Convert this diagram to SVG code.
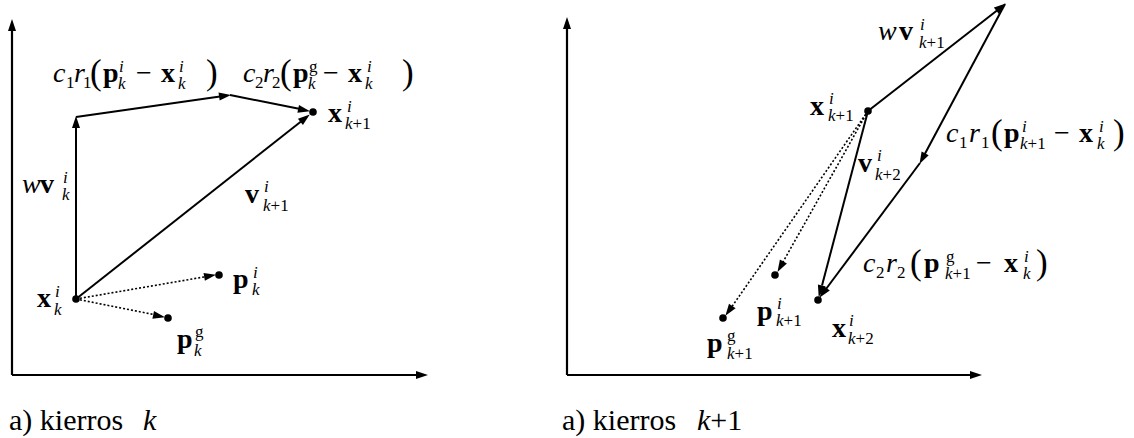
<svg xmlns="http://www.w3.org/2000/svg" width="1134" height="438" viewBox="0 0 1134 438">
<g id="axes">
<g stroke="#000" stroke-width="2.2" fill="none">
<path d="M12,375 L12,30"/>
<path d="M12,375 L417,375"/>
<path d="M567,375 L567,28"/>
<path d="M567,375 L971,375"/>
</g>
<g fill="#000">
<polygon points="12,19 16,31 8,31"/>
<polygon points="428,375 416,371 416,379"/>
<polygon points="567,17 571,29 563,29"/>
<polygon points="982,375 970,371 970,379"/>
</g>
</g>
<g id="connectors">
<g stroke="#000" stroke-width="2" fill="none">
<path d="M76,299 L76,127"/>
<path d="M76,117 L220,96.5"/>
<path d="M230,95 L299,108.8"/>
<path d="M76,299 L301,121.5"/>
<path d="M868,111 L997,10.5"/>
<path d="M1005,4 L924.8,154"/>
<path d="M920,163 L826,289"/>
<path d="M868,111 L822,285.5"/>
</g>
<g stroke="#000" stroke-width="1.6" stroke-dasharray="2 2" fill="none">
<path d="M76,299 L205,276.8"/>
<path d="M76,299 L154,314.6"/>
<path d="M868,111 L783,262"/>
<path d="M868,111 L732,306.5"/>
</g>
<g fill="#000">
<polygon points="76,116 80,128 72,128"/>
<polygon points="231,94.9 219.7,100.5 218.5,92.6"/>
<polygon points="310,111.2 297.4,112.7 299,104.9"/>
<polygon points="309.8,114.4 302.9,124.9 297.9,118.7"/>
<polygon points="216,274.8 204.9,280.8 203.5,272.9"/>
<polygon points="165,317.2 152.4,318.7 154,310.9"/>
<polygon points="1005.8,3.4 998.8,13.9 993.9,7.6"/>
<polygon points="919.5,163.9 921.6,151.4 928.7,155.2"/>
<polygon points="819.4,297.8 823.4,285.8 829.8,290.6"/>
<polygon points="818.7,297 817.9,284.4 825.7,286.4"/>
<polygon points="777.5,271.9 779.9,259.5 786.9,263.4"/>
<polygon points="725.4,315.8 729,303.7 735.6,308.3"/>
</g>
</g>
<g id="xk">
<circle cx="76" cy="299" r="3.8"/>
<text font-family="Liberation Serif" font-size="17"><tspan font-weight="bold" font-size="28" x="37" y="307">x</tspan><tspan font-style="italic" x="55" y="297">i</tspan><tspan font-style="italic" x="54" y="315">k</tspan></text>
</g>
<g id="xk1">
<circle cx="313" cy="112" r="3.8"/>
<text font-family="Liberation Serif" font-size="17"><tspan font-weight="bold" font-size="28" x="328" y="122">x</tspan><tspan font-style="italic" x="347" y="112">i</tspan><tspan font-style="italic" x="345" y="129">k</tspan><tspan>+1</tspan></text>
</g>
<g id="pki">
<circle cx="219" cy="275" r="3.8"/>
<text font-family="Liberation Serif" font-size="17"><tspan font-weight="bold" font-size="28" x="233" y="288">p</tspan><tspan font-style="italic" x="253" y="278">i</tspan><tspan font-style="italic" x="252" y="295">k</tspan></text>
</g>
<g id="pkg">
<circle cx="168" cy="318" r="3.8"/>
<text font-family="Liberation Serif" font-size="17"><tspan font-weight="bold" font-size="28" x="177" y="348">p</tspan><tspan x="195" y="337">g</tspan><tspan font-style="italic" x="194" y="356">k</tspan></text>
</g>
<g id="lbl-wvk">
<text font-family="Liberation Serif" font-size="17"><tspan font-style="italic" font-size="28" x="22" y="193">w</tspan><tspan font-weight="bold" font-size="28" x="40" y="193">v</tspan><tspan font-style="italic" x="63" y="183">i</tspan><tspan font-style="italic" x="62" y="200">k</tspan></text>
</g>
<g id="lbl-vk1">
<text font-family="Liberation Serif" font-size="17"><tspan font-weight="bold" font-size="28" x="245" y="203">v</tspan><tspan font-style="italic" x="264" y="192">i</tspan><tspan font-style="italic" x="263" y="211">k</tspan><tspan>+1</tspan></text>
</g>
<g id="lbl-c1r1-left">
<text font-family="Liberation Serif" font-size="17"><tspan font-style="italic" font-size="28" x="53" y="82">c</tspan><tspan x="66" y="88">1</tspan><tspan font-style="italic" font-size="28" x="74" y="82">r</tspan><tspan x="83" y="88">1</tspan><tspan font-size="35" x="90" y="84">(</tspan><tspan font-weight="bold" font-size="28" x="103" y="82">p</tspan><tspan font-style="italic" x="119" y="72">i</tspan><tspan font-style="italic" x="118" y="89">k</tspan><tspan font-size="28" x="136" y="82">&#8722;</tspan><tspan font-weight="bold" font-size="28" x="161" y="82">x</tspan><tspan font-style="italic" x="179" y="72">i</tspan><tspan font-style="italic" x="178" y="89">k</tspan><tspan font-size="35" x="206" y="84">)</tspan></text>
</g>
<g id="lbl-c2r2-left">
<text font-family="Liberation Serif" font-size="17"><tspan font-style="italic" font-size="28" x="243" y="82">c</tspan><tspan x="255" y="88">2</tspan><tspan font-style="italic" font-size="28" x="263" y="82">r</tspan><tspan x="272" y="88">2</tspan><tspan font-size="35" x="280" y="84">(</tspan><tspan font-weight="bold" font-size="28" x="293" y="82">p</tspan><tspan x="309" y="72">g</tspan><tspan font-style="italic" x="308" y="89">k</tspan><tspan font-size="28" x="323" y="82">&#8722;</tspan><tspan font-weight="bold" font-size="28" x="348" y="82">x</tspan><tspan font-style="italic" x="367" y="72">i</tspan><tspan font-style="italic" x="365" y="89">k</tspan><tspan font-size="35" x="402" y="84">)</tspan></text>
</g>
<g id="cap-left">
<text font-family="Liberation Serif" font-size="30" x="9" y="430">a) kierros</text>
<text font-family="Liberation Serif" font-size="30" x="143" y="430" font-style="italic">k</text>
</g>
<g id="xk1r">
<circle cx="868" cy="111" r="3.8"/>
<text font-family="Liberation Serif" font-size="17"><tspan font-weight="bold" font-size="28" x="810" y="115">x</tspan><tspan font-style="italic" x="829" y="104">i</tspan><tspan font-style="italic" x="828" y="121">k</tspan><tspan>+1</tspan></text>
</g>
<g id="xk2">
<circle cx="818" cy="300" r="3.8"/>
<text font-family="Liberation Serif" font-size="17"><tspan font-weight="bold" font-size="28" x="832" y="337">x</tspan><tspan font-style="italic" x="849" y="326">i</tspan><tspan font-style="italic" x="848" y="344">k</tspan><tspan>+2</tspan></text>
</g>
<g id="pk1i">
<circle cx="775" cy="275" r="3.8"/>
<text font-family="Liberation Serif" font-size="17"><tspan font-weight="bold" font-size="28" x="757" y="320">p</tspan><tspan font-style="italic" x="777" y="309">i</tspan><tspan font-style="italic" x="776" y="326">k</tspan><tspan>+1</tspan></text>
</g>
<g id="pk1g">
<circle cx="723" cy="318" r="3.8"/>
<text font-family="Liberation Serif" font-size="17"><tspan font-weight="bold" font-size="28" x="707" y="352">p</tspan><tspan x="727" y="341">g</tspan><tspan font-style="italic" x="727" y="359">k</tspan><tspan>+1</tspan></text>
</g>
<g id="lbl-wvk1">
<text font-family="Liberation Serif" font-size="17"><tspan font-style="italic" font-size="28" x="878" y="40">w</tspan><tspan font-weight="bold" font-size="28" x="899" y="40">v</tspan><tspan font-style="italic" x="920" y="30">i</tspan><tspan font-style="italic" x="919" y="48">k</tspan><tspan>+1</tspan></text>
</g>
<g id="lbl-vk2">
<text font-family="Liberation Serif" font-size="17"><tspan font-weight="bold" font-size="28" x="858" y="172">v</tspan><tspan font-style="italic" x="877" y="161">i</tspan><tspan font-style="italic" x="875" y="180">k</tspan><tspan>+2</tspan></text>
</g>
<g id="lbl-c1r1-right">
<text font-family="Liberation Serif" font-size="17"><tspan font-style="italic" font-size="28" x="946" y="142">c</tspan><tspan x="959" y="148">1</tspan><tspan font-style="italic" font-size="28" x="969" y="142">r</tspan><tspan x="981" y="148">1</tspan><tspan font-size="35" x="991" y="144">(</tspan><tspan font-weight="bold" font-size="28" x="1004" y="142">p</tspan><tspan font-style="italic" x="1022" y="132">i</tspan><tspan font-style="italic" x="1020" y="149">k</tspan><tspan>+1</tspan><tspan font-size="28" x="1054" y="142">&#8722;</tspan><tspan font-weight="bold" font-size="28" x="1079" y="142">x</tspan><tspan font-style="italic" x="1099" y="132">i</tspan><tspan font-style="italic" x="1097" y="149">k</tspan><tspan font-size="35" x="1113" y="144">)</tspan></text>
</g>
<g id="lbl-c2r2-right">
<text font-family="Liberation Serif" font-size="17"><tspan font-style="italic" font-size="28" x="863" y="272">c</tspan><tspan x="876" y="278">2</tspan><tspan font-style="italic" font-size="28" x="886" y="272">r</tspan><tspan x="897" y="278">2</tspan><tspan font-size="35" x="910" y="274">(</tspan><tspan font-weight="bold" font-size="28" x="924" y="272">p</tspan><tspan x="946" y="262">g</tspan><tspan font-style="italic" x="945" y="279">k</tspan><tspan>+1</tspan><tspan font-size="28" x="976" y="272">&#8722;</tspan><tspan font-weight="bold" font-size="28" x="1004" y="272">x</tspan><tspan font-style="italic" x="1024" y="262">i</tspan><tspan font-style="italic" x="1023" y="279">k</tspan><tspan font-size="35" x="1036" y="274">)</tspan></text>
</g>
<g id="cap-right">
<text font-family="Liberation Serif" font-size="30" x="562" y="430">a) kierros</text>
<text font-family="Liberation Serif" font-size="30" x="697" y="430"><tspan font-style="italic">k</tspan>+1</text>
</g>
</svg>
